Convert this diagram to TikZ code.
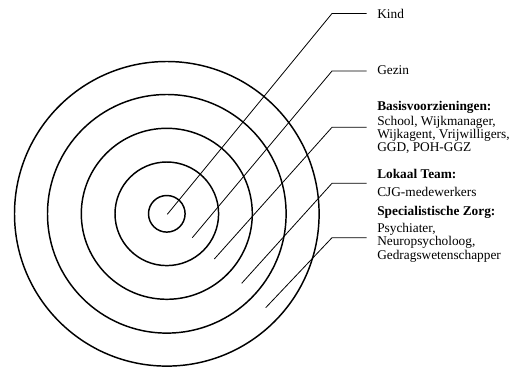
\documentclass[tikz,border=0pt]{standalone}
\usepackage{fontspec}
\setmainfont{Liberation Serif}
\usepackage{tikz}
\usetikzlibrary{positioning}

\tikzset{
  ring/.style={line width=1.1pt},
  leader/.style={line width=0.6pt},
  lab/.style={anchor=base west, inner sep=0pt, align=left,
    font=\fontsize{10}{8.3}\selectfont},
  head/.style={lab, font=\fontsize{10}{8.3}\selectfont\bfseries}
}

\begin{document}
\begin{tikzpicture}[x=0.75pt,y=-0.75pt]
  \useasboundingbox (0,0) rectangle (509,367);

  \coordinate (c) at (166.8,213.8);
  \foreach \r in {18.3,51.8,85.5,119.3,152.3} {%
    \draw[ring] (c) circle (\r);
  }

  % labels (base = last line)
  \node[lab] (kind) at (377,18.5) {Kind};
  \node[lab] (gezin) at (377,75) {Gezin};
  \node[head] (basis) at (377,110) {Basisvoorzieningen:};
  \node[lab] (basist) at (377,151.7) {School, Wijkmanager,\\Wijkagent, Vrijwilligers,\\GGD, POH-GGZ};
  \node[head] (lokaal) at (377,178.3) {Lokaal Team:};
  \node[lab] (lokaalt) at (377,196) {CJG-medewerkers};
  \node[head] (spec) at (377,215.7) {Specialistische Zorg:};
  \node[lab] (spect) at (377,259) {Psychiater,\\Neuropsycholoog,\\Gedragswetenschapper};

  % leader lines
  \foreach \s/\y/\t in {{(167.3,214.3)}/13.5/kind, {(192.3,237.7)}/71/gezin,
      {(214.3,259)}/127.3/basist, {(241.7,283.3)}/183.3/lokaalt,
      {(265.7,307.7)}/237.7/spect} {%
    \draw[leader] \s -- (332,\y) -- (366.7,\y);
  }
\end{tikzpicture}
\end{document}
